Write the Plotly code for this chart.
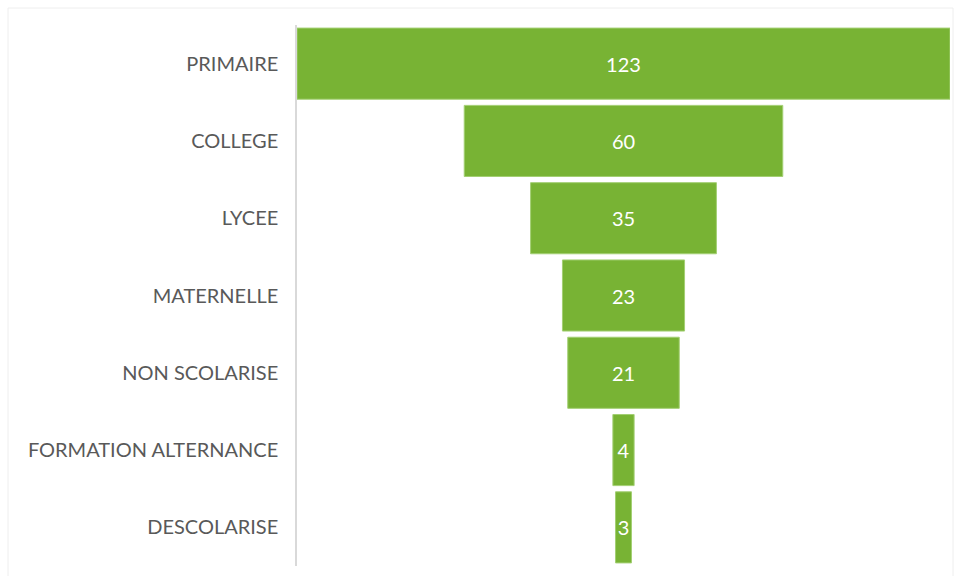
import plotly.graph_objects as go

categories = ["PRIMAIRE", "COLLEGE", "LYCEE", "MATERNELLE", "NON SCOLARISE",
              "FORMATION ALTERNANCE", "DESCOLARISE"]
values = [123, 60, 35, 23, 21, 4, 3]

half = max(values) / 2

fig = go.Figure()

fig.add_trace(
    go.Funnel(
        y=categories,
        x=values,
        textinfo="value",
        textposition="inside",
        constraintext="none",
        insidetextfont=dict(color="white", size=20, family="Lato"),
        marker=dict(color="#78b334", line=dict(color="#a3cf73", width=1)),
        connector=dict(visible=False),
    )
)

fig.update_layout(
    width=955,
    height=576,
    margin=dict(l=297, r=5, t=25, b=10),
    paper_bgcolor="white",
    plot_bgcolor="white",
    showlegend=False,
    funnelgap=0.08,
    font=dict(family="Lato", color="#595959", size=20),
    xaxis=dict(visible=False, range=[-half, half]),
    yaxis=dict(
        showline=True,
        linecolor="#d9d9d9",
        linewidth=1.5,
        ticks="",
        ticklabelstandoff=13,
        tickfont=dict(size=20, color="#595959"),
    ),
    shapes=[
        dict(type="rect", xref="paper", yref="paper",
             x0=(8 - 297) / 653, x1=(953 - 297) / 653,
             y0=-0.03, y1=(566 - 8) / 541,
             line=dict(color="#eeeeee", width=1), layer="below"),
    ],
)

# drop the browser's default page margin so the figure sits at the window origin
fig.write_html(
    "out.html",
    config={"displayModeBar": False},
    post_script="document.body.style.margin='0';",
)
